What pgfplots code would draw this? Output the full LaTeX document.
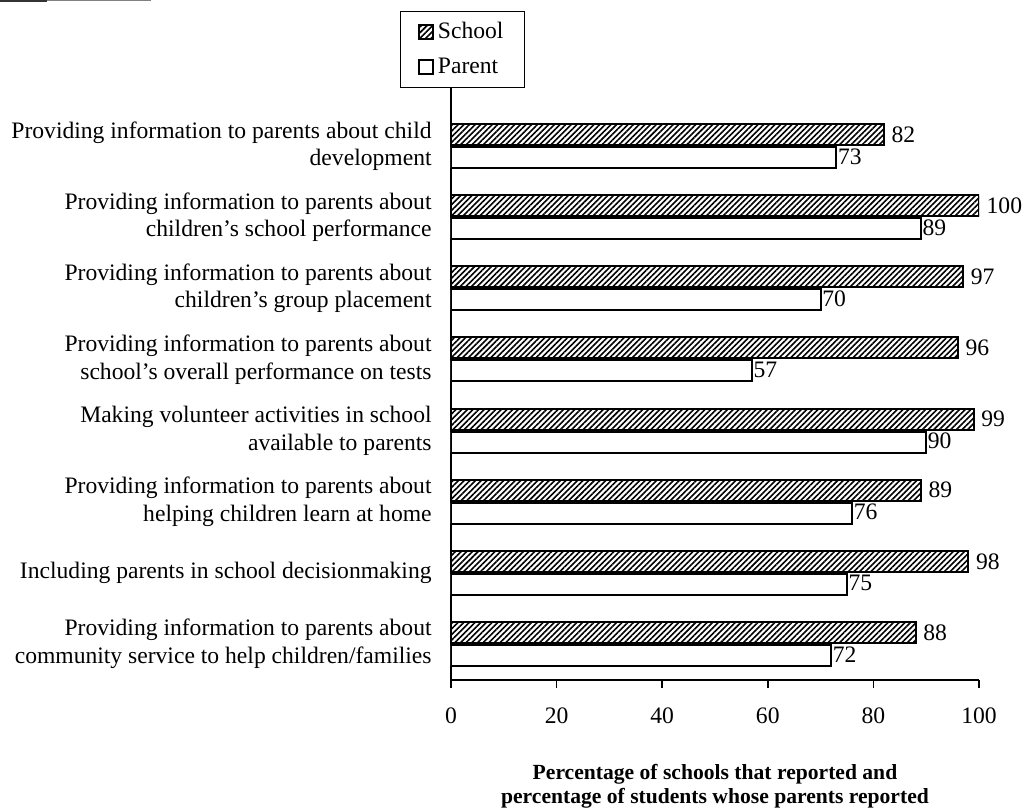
\documentclass[border=0pt]{standalone}
\usepackage{fontspec}
\setmainfont{Liberation Serif}
\usepackage{pgfplots}
\pgfplotsset{compat=1.18}
\usetikzlibrary{patterns.meta}
\newcommand{\lfont}{\fontsize{11.8}{13.8}\selectfont}
\begin{document}
\begin{tikzpicture}
\begin{axis}[
  at={(0pt,0pt)}, anchor=south west,
  scale only axis, width=264pt, height=296pt,
  xbar=1pt, bar width=10.5pt,
  xmin=0, xmax=100, ymin=-0.816, ymax=7.506, y dir=reverse,
  axis x line*=bottom, axis y line*=left,
  axis line style={line width=0.7pt},
  xtick={0,20,...,100}, tick align=outside, major tick length=4pt,
  x tick style={line width=0.7pt, black},
  ytick={0,...,7}, y tick style={draw=none},
  yticklabels={{Providing information to parents about child\\development},
    {Providing information to parents about\\children’s school performance},
    {Providing information to parents about\\children’s group placement},
    {Providing information to parents about\\school’s overall performance on tests},
    {Making volunteer activities in school\\available to parents},
    {Providing information to parents about\\helping children learn at home},
    {Including parents in school decisionmaking},
    {Providing information to parents about\\community service to help children/families}},
  yticklabel style={align=right, anchor=east, inner sep=0pt, xshift=-5.5pt, font=\lfont},
  xticklabel style={anchor=center, yshift=-14pt, font=\lfont},
  /pgf/number format/assume math mode=true,
  xlabel={Percentage of schools that reported and\\percentage of students whose parents reported},
  xlabel style={at={(axis description cs:0.5,0)}, anchor=center, yshift=-53pt, align=center,
    font=\fontsize{10.8}{12}\selectfont\bfseries},
  nodes near coords, nodes near coords style={font=\lfont, black},
  every axis plot/.append style={draw=black, line width=1pt},
  legend cell align=left,
  legend image code/.code={\draw[#1] (0pt,-3.6pt) rectangle (7.2pt,3.6pt);},
  legend style={at={(axis description cs:0,1)}, anchor=south west, xshift=-25.5pt,
    draw=black, line width=0.6pt, font=\lfont, inner xsep=8.5pt, inner ysep=3.5pt, row sep=4pt},
]
\addplot[bar shift=5.75pt, pattern={Lines[angle=45,distance=2pt,line width=0.8pt]}] coordinates {
  (82,0) (100,1) (97,2) (96,3) (99,4) (89,5) (98,6) (88,7)};
\addlegendentry{School}
\addplot[bar shift=-5.75pt, fill=white, nodes near coords style={xshift=-3pt, yshift=0.5pt}] coordinates {
  (73,0) (89,1) (70,2) (57,3) (90,4) (76,5) (75,6) (72,7)};
\addlegendentry{Parent}
\end{axis}
\draw[line width=1.2pt, black!80] (-225.5pt,339.4pt) -- (-202pt,339.4pt);
\draw[line width=0.4pt, black!50] (-202pt,339.6pt) -- (-150pt,339.6pt);
\pgfresetboundingbox
\path (-225.5pt,-64.5pt) rectangle (285.5pt,340pt);
\end{tikzpicture}
\end{document}
